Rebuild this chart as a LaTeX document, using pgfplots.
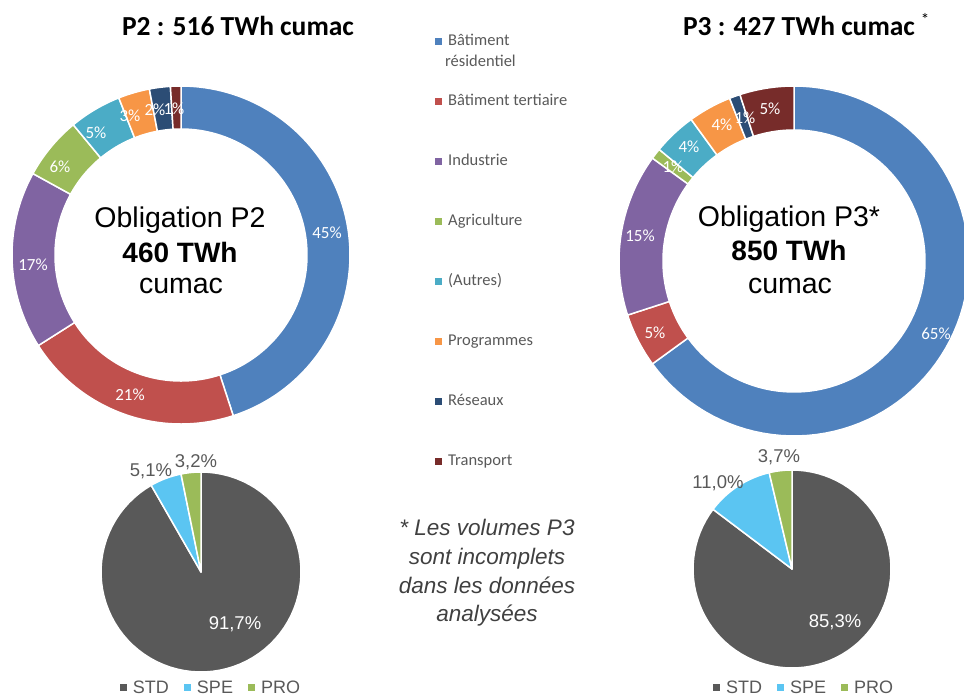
\documentclass[border=0pt]{standalone}
\usepackage{fontspec}
\setmainfont{Liberation Sans}
\newfontfamily\calibri{Carlito}
\usepackage{pgfplots}
\pgfplotsset{compat=1.18}

\definecolor{cBlue}{HTML}{4F81BD}
\definecolor{cRed}{HTML}{C0504D}
\definecolor{cPurple}{HTML}{8064A2}
\definecolor{cGreen}{HTML}{9BBB59}
\definecolor{cTeal}{HTML}{4BACC6}
\definecolor{cOrange}{HTML}{F79646}
\definecolor{cNavy}{HTML}{2C4D75}
\definecolor{cDarkred}{HTML}{772C2A}
\definecolor{pGray}{HTML}{595959}
\definecolor{pSky}{HTML}{5BC5F2}
\definecolor{pGreen}{HTML}{9BBB59}
\definecolor{txtGray}{HTML}{595959}

\pgfplotsset{
    canvas/.style = {
        at = {(0pt,0pt)}, anchor = south west,
        width = 964pt, height = 697pt, scale only axis,
        xmin = 0, xmax = 964, ymin = 0, ymax = 697,
        y dir = reverse, hide axis, clip = false
    },
    sqlegend/.style = {
        legend image code/.code = {\fill[##1, draw=none] (0pt,-3pt) rectangle (7pt,4pt);}
    }
}

% legend text fonts
\newcommand\lgA[1]{{\calibri\fontsize{16.5}{19}\selectfont\color{txtGray}#1}}
\newcommand\lgB[1]{{\fontsize{18}{20}\selectfont\color{txtGray}#1}}

% running total of the percentages of one ring
\newcommand\resetacc{\gdef\acc{0}}
% #1 colour, #2 cx, #3 cy, #4 outer radius, #5 inner radius, #6 percent, #7 extra options
\newcommand\slice[7]{%
    \pgfmathsetmacro\aS{3.6*\acc}%
    \pgfmathsetmacro\accnew{\acc+#6}%
    \pgfmathsetmacro\aE{3.6*\accnew}%
    \global\let\acc\accnew
    \edef\doslice{\noexpand\addplot[fill=#1, draw=white, line width=1.5pt, line join=round,
        domain=0:3, samples=241, #7]
        ({#2+(#4-(#4-#5)*min(max(x-1,0),1))*sin(\aS+(\aE-\aS)*(min(x,1)-max(x-2,0)))},
         {#3-(#4-(#4-#5)*min(max(x-1,0),1))*cos(\aS+(\aE-\aS)*(min(x,1)-max(x-2,0)))}) -- cycle;}%
    \doslice
}

\begin{document}
\begin{tikzpicture}
\useasboundingbox (0,0) rectangle (964pt,697pt);

% ---- donuts and main legend
\begin{axis}[
    canvas, sqlegend,
    legend cell align = left,
    legend style = {
        at = {(axis cs:432,32)}, anchor = north west,
        draw = none, fill = none,
        row sep = 45pt,
        nodes = {inner sep = 0pt, text height = 11pt, text depth = 4pt},
        /tikz/every odd column/.append style = {column sep = 6pt}
    }
]
    \resetacc
    \slice{cBlue}{181}{255}{169}{126}{45}{}     \addlegendentry{\lgA{Bâtiment}}
    \slice{cRed}{181}{255}{169}{126}{21}{}      \addlegendentry{\lgA{Bâtiment tertiaire}}
    \slice{cPurple}{181}{255}{169}{126}{17}{}   \addlegendentry{\lgA{Industrie}}
    \slice{cGreen}{181}{255}{169}{126}{6}{}     \addlegendentry{\lgA{Agriculture}}
    \slice{cTeal}{181}{255}{169}{126}{5}{}      \addlegendentry{\lgA{(Autres)}}
    \slice{cOrange}{181}{255}{169}{126}{3}{}    \addlegendentry{\lgA{Programmes}}
    \slice{cNavy}{181}{255}{169}{126}{2}{}      \addlegendentry{\lgA{Réseaux}}
    \slice{cDarkred}{181}{255}{169}{126}{1}{}   \addlegendentry{\lgA{Transport}}

    \resetacc
    \slice{cBlue}{794}{261}{175}{131}{65}{forget plot}
    \slice{cRed}{794}{261}{175}{131}{5}{forget plot}
    \slice{cPurple}{794}{261}{175}{131}{15}{forget plot}
    \slice{cGreen}{794}{261}{175}{131}{1}{forget plot}
    \slice{cTeal}{794}{261}{175}{131}{4}{forget plot}
    \slice{cOrange}{794}{261}{175}{131}{4}{forget plot}
    \slice{cNavy}{794}{261}{175}{131}{1}{forget plot}
    \slice{cDarkred}{794}{261}{175}{131}{5}{forget plot}

    % titles
    \node[anchor=base, font=\calibri\bfseries\fontsize{27.5}{30}\selectfont] at (axis cs:238,35) {P2 : 516 TWh cumac};
    \node[anchor=base, font=\calibri\bfseries\fontsize{27.5}{30}\selectfont] at (axis cs:799,35) {P3 : 427 TWh cumac};
    \node[font=\calibri\fontsize{17}{20}\selectfont] at (axis cs:925,19) {*};
    \node[anchor=base west, inner sep=0pt] at (axis cs:445,66) {\lgA{résidentiel}};

    % centre texts
    \node[anchor=base, font=\fontsize{28.5}{30}\selectfont] at (axis cs:180,227) {Obligation P2};
    \node[anchor=base, font=\bfseries\fontsize{28}{30}\selectfont] at (axis cs:180,262) {460 TWh};
    \node[anchor=base, font=\fontsize{28.5}{30}\selectfont] at (axis cs:181,293) {cumac};
    \node[anchor=base, font=\fontsize{28.5}{30}\selectfont] at (axis cs:789,226) {Obligation P3*};
    \node[anchor=base, font=\bfseries\fontsize{28}{30}\selectfont] at (axis cs:789,260) {850 TWh};
    \node[anchor=base, font=\fontsize{28.5}{30}\selectfont] at (axis cs:790,293) {cumac};

    % ring labels
    \begin{scope}[every node/.style={text=white, font=\calibri\fontsize{17}{20}\selectfont, inner sep=0pt}]
        \node at (axis cs:327,233) {45\%};
        \node at (axis cs:130,395) {21\%};
        \node at (axis cs:33,265) {17\%};
        \node at (axis cs:60,167) {6\%};
        \node at (axis cs:96,133) {5\%};
        \node at (axis cs:130,116) {3\%};
        \node at (axis cs:155,110) {2\%};
        \node at (axis cs:174,109) {1\%};
        \node at (axis cs:936,334) {65\%};
        \node at (axis cs:655,333) {5\%};
        \node at (axis cs:640,236) {15\%};
        \node at (axis cs:673,167) {1\%};
        \node at (axis cs:689,147) {4\%};
        \node at (axis cs:722,125) {4\%};
        \node at (axis cs:745,118) {1\%};
        \node at (axis cs:770,109) {5\%};
    \end{scope}

    % note
    \begin{scope}[every node/.style={anchor=base, text=black!75, font=\itshape\fontsize{22.5}{25}\selectfont, inner sep=0pt}]
        \node at (axis cs:487,535) {* Les volumes P3};
        \node at (axis cs:487,564) {sont incomplets};
        \node at (axis cs:487,593) {dans les données};
        \node at (axis cs:487,621) {analysées};
    \end{scope}
\end{axis}

% ---- left pie
\begin{axis}[
    canvas, sqlegend,
    legend columns = 3,
    legend style = {
        at = {(axis cs:210,688)}, anchor = center,
        draw = none, fill = none,
        nodes = {inner sep = 0pt, text height = 13pt, text depth = 3pt},
        /tikz/every odd column/.append style = {column sep = 6pt},
        /tikz/every even column/.append style = {column sep = 15pt}
    }
]
    \resetacc
    \slice{pGray}{201}{572}{100}{0}{91.7}{}  \addlegendentry{\lgB{STD}}
    \slice{pSky}{201}{572}{100}{0}{5.1}{}    \addlegendentry{\lgB{SPE}}
    \slice{pGreen}{201}{572}{100}{0}{3.2}{}  \addlegendentry{\lgB{PRO}}
    \node[text=white, font=\fontsize{18.5}{20}\selectfont] at (axis cs:235,624) {91,7\%};
    \node[text=txtGray, font=\fontsize{18.5}{20}\selectfont] at (axis cs:151,471) {5,1\%};
    \node[text=txtGray, font=\fontsize{18.5}{20}\selectfont] at (axis cs:196,462) {3,2\%};
\end{axis}

% ---- right pie
\begin{axis}[
    canvas, sqlegend,
    legend columns = 3,
    legend style = {
        at = {(axis cs:803,688)}, anchor = center,
        draw = none, fill = none,
        nodes = {inner sep = 0pt, text height = 13pt, text depth = 3pt},
        /tikz/every odd column/.append style = {column sep = 6pt},
        /tikz/every even column/.append style = {column sep = 15pt}
    }
]
    \resetacc
    \slice{pGray}{792}{569}{99}{0}{85.3}{}  \addlegendentry{\lgB{STD}}
    \slice{pSky}{792}{569}{99}{0}{11.0}{}   \addlegendentry{\lgB{SPE}}
    \slice{pGreen}{792}{569}{99}{0}{3.7}{}  \addlegendentry{\lgB{PRO}}
    \node[text=white, font=\fontsize{18.5}{20}\selectfont] at (axis cs:835,622) {85,3\%};
    \node[text=txtGray, font=\fontsize{18.5}{20}\selectfont] at (axis cs:718,483) {11,0\%};
    \node[text=txtGray, font=\fontsize{18.5}{20}\selectfont] at (axis cs:779,457) {3,7\%};
\end{axis}
\end{tikzpicture}
\end{document}
